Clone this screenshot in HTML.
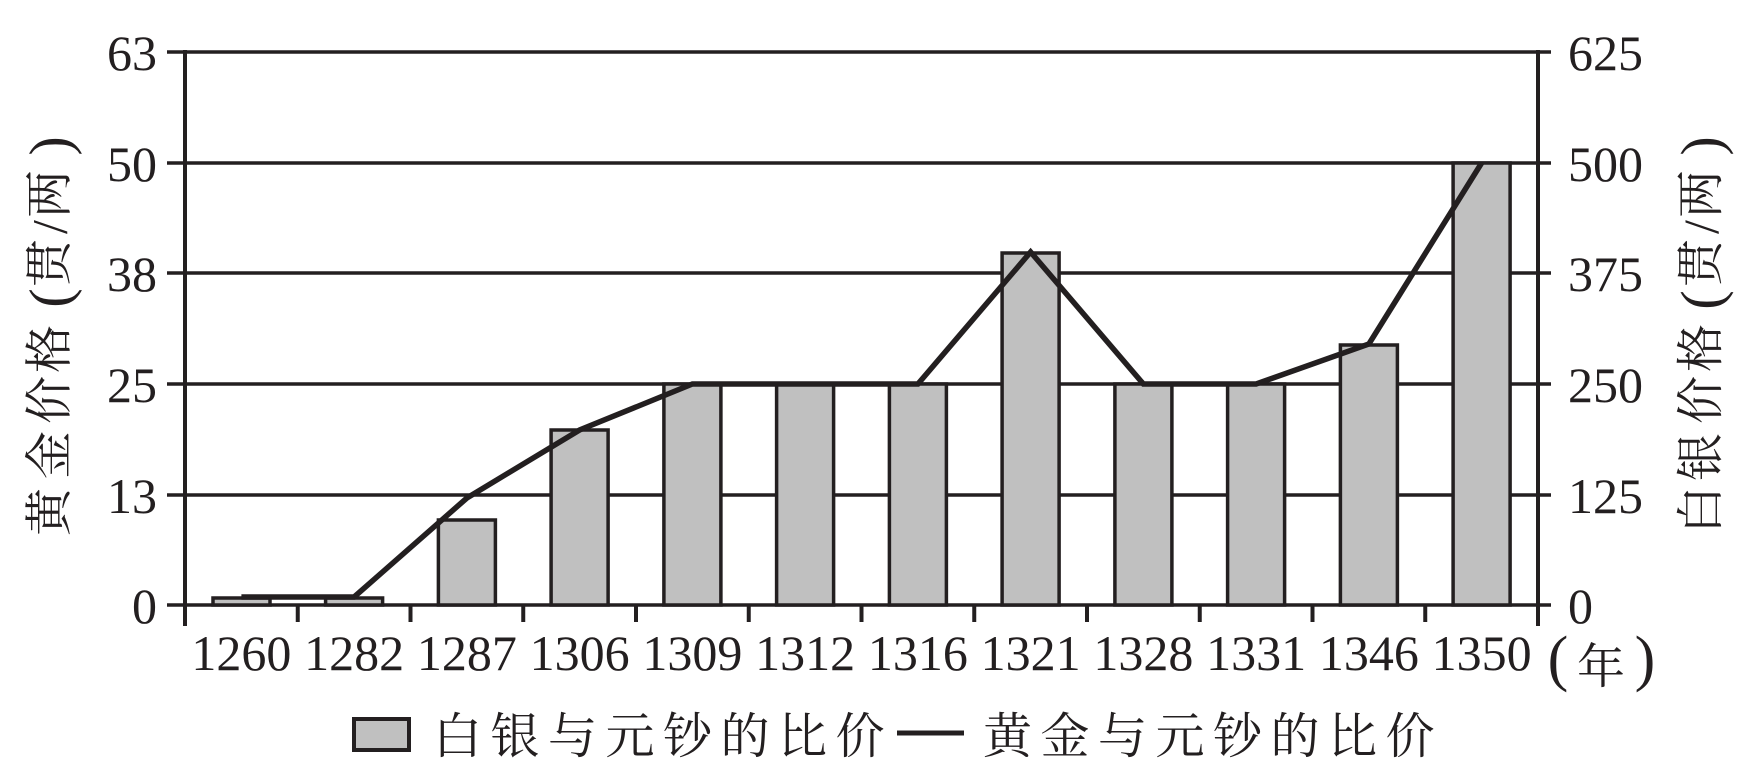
<!DOCTYPE html>
<html><head><meta charset="utf-8">
<style>
html,body{margin:0;padding:0;background:#fff;}
svg{display:block;}
.num{font-family:"Liberation Serif",serif;font-size:50px;fill:#231f20;}
.cjk{font-family:"Liberation Serif","Noto Serif CJK SC",serif;font-size:48px;fill:#231f20;}
.leg{font-family:"Liberation Serif","Noto Serif CJK SC",serif;font-size:49px;fill:#231f20;letter-spacing:8.5px;}
</style></head>
<body>
<svg width="1758" height="782" viewBox="0 0 1758 782" xmlns="http://www.w3.org/2000/svg">
<rect width="1758" height="782" fill="#fff"/>
<!-- gridlines -->
<g stroke="#231f20" stroke-width="3.5">
<line x1="167" y1="52" x2="1551" y2="52"/>
<line x1="167" y1="163" x2="1551" y2="163"/>
<line x1="167" y1="273" x2="1551" y2="273"/>
<line x1="167" y1="384" x2="1551" y2="384"/>
<line x1="167" y1="495" x2="1551" y2="495"/>
<line x1="167" y1="605" x2="1551" y2="605"/>
</g>
<!-- axes -->
<g stroke="#231f20" stroke-width="4">
<line x1="185" y1="50" x2="185" y2="626"/>
<line x1="1538" y1="50" x2="1538" y2="626"/>
<line x1="297.75" y1="605" x2="297.75" y2="622"/>
<line x1="410.5" y1="605" x2="410.5" y2="622"/>
<line x1="523.25" y1="605" x2="523.25" y2="622"/>
<line x1="636" y1="605" x2="636" y2="622"/>
<line x1="748.75" y1="605" x2="748.75" y2="622"/>
<line x1="861.5" y1="605" x2="861.5" y2="622"/>
<line x1="974.25" y1="605" x2="974.25" y2="622"/>
<line x1="1087" y1="605" x2="1087" y2="622"/>
<line x1="1199.75" y1="605" x2="1199.75" y2="622"/>
<line x1="1312.5" y1="605" x2="1312.5" y2="622"/>
<line x1="1425.25" y1="605" x2="1425.25" y2="622"/>
</g>
<!-- bars -->
<g fill="#c0c0c0" stroke="#231f20" stroke-width="3.5">
<rect x="213" y="598" width="57" height="7"/>
<rect x="325.6" y="598" width="57" height="7"/>
<rect x="438.4" y="520" width="57" height="85"/>
<rect x="551.1" y="430" width="57" height="175"/>
<rect x="663.9" y="384" width="57" height="221"/>
<rect x="776.6" y="384" width="57" height="221"/>
<rect x="889.4" y="384" width="57" height="221"/>
<rect x="1002.1" y="253" width="57" height="352"/>
<rect x="1114.9" y="384" width="57" height="221"/>
<rect x="1227.6" y="384" width="57" height="221"/>
<rect x="1340.4" y="345" width="57" height="260"/>
<rect x="1453.1" y="163" width="57" height="442"/>
</g>
<!-- gold line -->
<polyline fill="none" stroke="#231f20" stroke-width="5.5" stroke-linejoin="miter"
points="241.4,597 354.1,597 466.9,498 579.6,430 692.4,384 805.1,384 917.9,384 1030.6,252 1143.4,384 1256.1,384 1368.9,344 1481.6,163"/>
<!-- left labels -->
<g class="num" text-anchor="end">
<text x="157" y="70">63</text>
<text x="157" y="181">50</text>
<text x="157" y="291">38</text>
<text x="157" y="402">25</text>
<text x="157" y="513">13</text>
<text x="157" y="623">0</text>
</g>
<!-- right labels -->
<g class="num" text-anchor="start">
<text x="1568" y="70">625</text>
<text x="1568" y="181">500</text>
<text x="1568" y="291">375</text>
<text x="1568" y="402">250</text>
<text x="1568" y="513">125</text>
<text x="1568" y="623">0</text>
</g>
<!-- x labels -->
<g class="num" text-anchor="middle">
<text x="241.4" y="670">1260</text>
<text x="354.1" y="670">1282</text>
<text x="466.9" y="670">1287</text>
<text x="579.6" y="670">1306</text>
<text x="692.4" y="670">1309</text>
<text x="805.1" y="670">1312</text>
<text x="917.9" y="670">1316</text>
<text x="1030.6" y="670">1321</text>
<text x="1143.4" y="670">1328</text>
<text x="1256.1" y="670">1331</text>
<text x="1368.9" y="670">1346</text>
<text x="1481.6" y="670">1350</text>
</g>
<text x="1558" y="679" text-anchor="middle" style="font-family:'Liberation Serif',serif;font-size:62px;fill:#231f20">(</text>
<text x="1601" y="683" text-anchor="middle" class="cjk">年</text>
<text x="1645" y="679" text-anchor="middle" style="font-family:'Liberation Serif',serif;font-size:62px;fill:#231f20">)</text>
<!-- left title -->
<g transform="rotate(-90)">
<text class="cjk" text-anchor="middle" dominant-baseline="central" y="49.5">
<tspan x="-512">黄</tspan><tspan x="-455">金</tspan><tspan x="-400">价</tspan><tspan x="-343">格</tspan>
<tspan x="-292" style="font-family:'Liberation Serif',serif;font-size:58px">(</tspan>
<tspan x="-257">贯</tspan>
<tspan x="-221" style="font-family:'Liberation Serif',serif;font-size:50px">/</tspan>
<tspan x="-188">两</tspan>
<tspan x="-146" style="font-family:'Liberation Serif',serif;font-size:58px">)</tspan>
</text>
</g>
<!-- right title -->
<g transform="rotate(-90)">
<text class="cjk" text-anchor="middle" dominant-baseline="central" y="1701">
<tspan x="-510">白</tspan><tspan x="-457">银</tspan><tspan x="-400">价</tspan><tspan x="-342">格</tspan>
<tspan x="-294" style="font-family:'Liberation Serif',serif;font-size:58px">(</tspan>
<tspan x="-257">贯</tspan>
<tspan x="-221" style="font-family:'Liberation Serif',serif;font-size:50px">/</tspan>
<tspan x="-188">两</tspan>
<tspan x="-146" style="font-family:'Liberation Serif',serif;font-size:58px">)</tspan>
</text>
</g>
<!-- legend -->
<rect x="354" y="719" width="55" height="31" fill="#c0c0c0" stroke="#231f20" stroke-width="4"/>
<text x="433" y="753" class="leg">白银与元钞的比价</text>
<line x1="897" y1="733" x2="964" y2="733" stroke="#231f20" stroke-width="5"/>
<text x="983" y="753" class="leg">黄金与元钞的比价</text>
</svg>
</body></html>
